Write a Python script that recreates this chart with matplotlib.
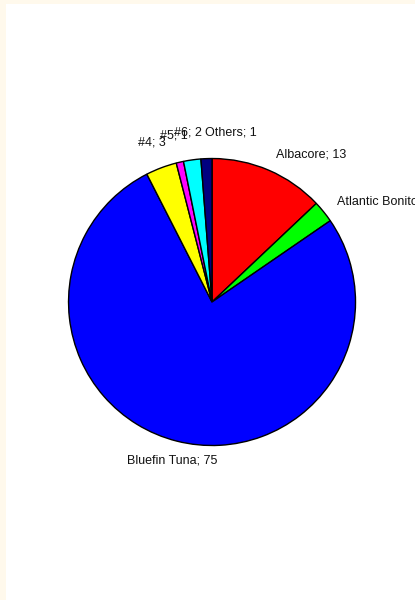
import numpy as np
import matplotlib.pyplot as plt
from matplotlib.patches import Rectangle

# species catch shares
species = ['Albacore', 'Atlantic Bonito', 'Bluefin Tuna', '#4', '#5', '#6', 'Others']
values = [12.6, 2.4, 75.0, 3.4, 0.8, 1.9, 1.2]
colors = ['#ff0000', '#00ff00', '#0000ff', '#ffff00', '#ff00ff', '#00ffff', '#000080']
label_ha = ['left', 'left', 'center', 'center', 'center', 'center', 'left']
label_dist = [1.12, 1.12, 1.14, 1.19, 1.19, 1.19, 1.18]


def main():
    plt.rcParams['font.family'] = ['Liberation Sans', 'DejaVu Sans']

    fig = plt.figure(figsize=(4.15, 6.0), dpi=100)
    fig.patch.set_facecolor('#fff9ec')
    fig.patches.append(Rectangle((6 / 415, 0), 409 / 415, 596 / 600,
                                 transform=fig.transFigure, facecolor='white',
                                 edgecolor='none', zorder=-1))

    ax = fig.add_axes([0.1651, 0.2575, 0.6916, 0.4783])
    ax.set_zorder(1)
    labels = [f'{n}; {v:.0f}' for n, v in zip(species, values)]
    wedges, texts = ax.pie(values, labels=labels, colors=colors, startangle=90,
                           counterclock=False, labeldistance=1.1,
                           wedgeprops=dict(edgecolor='black', linewidth=1.0),
                           textprops=dict(fontsize=9, color='#111111'))
    for w, t, ha, d in zip(wedges, texts, label_ha, label_dist):
        ang = np.deg2rad((w.theta1 + w.theta2) / 2)
        t.set_position((d * np.cos(ang), d * np.sin(ang)))
        t.set_ha(ha)
        t.set_va('center')
        t.set_clip_on(False)
    ax.set_xlim(-1, 1)
    ax.set_ylim(-1, 1)
    ax.set_aspect('equal')
    ax.axis('off')

    fig.savefig('out.png', dpi=100, facecolor=fig.get_facecolor())


if __name__ == "__main__":
    main()
